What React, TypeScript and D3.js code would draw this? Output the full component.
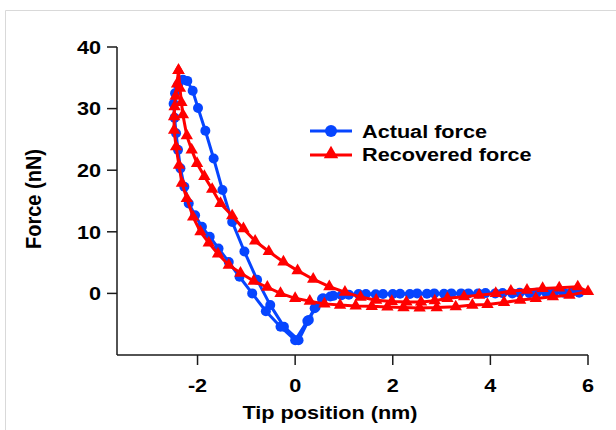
import React from 'react';
import * as d3 from 'd3';

// Actual force (blue circles): approach from the right, loop, back to the right
const actualX = [
  5.82, 5.5, 5.15, 4.8, 4.45, 4.1, 3.75, 3.4, 3.05, 2.7, 2.35, 2.0, 1.65, 1.3, 0.95, 0.72, 0.57, 0.42, 0.28, 0.07,
  -0.23, -0.51, -0.78, -1.04, -1.29, -1.49, -1.67, -1.84, -1.99, -2.1, -2.21, -2.3,
  -2.4, -2.46, -2.49, -2.47, -2.44, -2.4, -2.35, -2.27, -2.18, -2.05, -1.91, -1.75, -1.57, -1.36, -1.14, -0.88, -0.6, -0.3, 0.0,
  0.25, 0.4, 0.55, 0.78, 1.1, 1.45, 1.8, 2.15, 2.5, 2.85, 3.2, 3.55, 3.9, 4.25, 4.6, 4.95, 5.3, 5.65,
];
const actualY = [
  0.1, 0.1, 0.05, 0.05, 0, 0, 0, 0, -0.05, -0.05, -0.1, -0.1, -0.15, -0.1, -0.3, -0.5, -0.8, -2.2, -4.3, -7.6,
  -5.4, -1.9, 2.2, 6.8, 11.6, 16.8, 21.9, 26.4, 30.1, 32.9, 34.5, 34.7,
  33.8, 32.5, 30.8, 28.5, 26.0, 23.3, 20.3, 17.3, 14.6, 12.7, 10.8, 9.2, 7.3, 5.1, 2.7, 0.0, -2.9, -5.4, -7.6,
  -4.5, -2.4, -0.9, -0.4, -0.2, -0.1, -0.1, -0.05, 0, 0, 0, 0, 0.05, 0.05, 0.1, 0.1, 0.1, 0.1,
];

// Recovered force (red triangles): upper branch from the peak, then lower branch back
const recoveredX = [
  -2.39, -2.36, -2.33, -2.3, -2.22, -2.12, -2.01, -1.86, -1.7, -1.53, -1.29, -1.06, -0.82, -0.54, -0.24, 0.05, 0.37, 0.7,
  1.02, 1.34, 1.66, 1.98, 2.28, 2.58, 2.86, 3.12, 3.46, 3.77, 4.11, 4.42, 4.75, 5.07, 5.41, 5.79, 6.0,
  5.62, 5.28, 4.93, 4.61, 4.28, 3.94, 3.63, 3.29, 2.9, 2.55, 2.22, 1.89, 1.57, 1.24, 0.92, 0.6, 0.3, 0.0,
  -0.3, -0.57, -0.85, -1.12, -1.36, -1.58, -1.77, -1.94, -2.09, -2.22, -2.32, -2.38, -2.44, -2.48, -2.48, -2.47, -2.45, -2.42, -2.39,
];
const recoveredY = [
  36.2, 33.3, 31.0, 29.0, 25.6, 23.3, 21.1, 19.0, 16.9, 14.6, 12.6, 10.5, 8.5, 6.8, 5.1, 3.7, 2.3, 1.1,
  0.2, -0.6, -1.1, -1.3, -1.4, -1.4, -1.2, -0.8, -0.55, -0.28, 0.0, 0.37, 0.54, 0.8, 0.9, 1.07, 0.3,
  -0.28, -0.55, -0.81, -1.09, -1.47, -1.79, -1.9, -2.17, -2.3, -2.35, -2.3, -2.2, -2.1, -2.03, -1.9, -1.7, -1.25, -0.8,
  0.0, 1.0, 2.0, 3.3, 4.6, 6.4, 8.2, 10.0, 12.4, 15.4, 17.9, 20.8, 23.8, 26.5, 28.7, 30.3, 32.0, 34.0, 36.2,
];

const xTicks = [-2, 0, 2, 4, 6];
const yTicks = [0, 10, 20, 30, 40];

const BLUE = '#0645ff';
const RED = '#ff0000';
const FONT = '"Liberation Sans", Arial, sans-serif';
const SX = 1.14; // the original is stretched sideways a little

type Pt = { x: number; y: number };
const actual: Pt[] = actualX.map((x, i) => ({ x, y: actualY[i] }));
const recovered: Pt[] = recoveredX.map((x, i) => ({ x, y: recoveredY[i] }));

const x = d3.scaleLinear().domain([-3.65, 6]).range([117, 588]);
const y = d3.scaleLinear().domain([-10, 40]).range([355, 47]);

const line = d3
  .line<Pt>()
  .x((d) => x(d.x))
  .y((d) => y(d.y));

const tri = d3.symbol().type(d3.symbolTriangle).size(66)() as string;

const Label = ({ tx, ty, anchor, children }: any) => (
  <text
    transform={`translate(${tx},${ty}) scale(${SX},1)`}
    textAnchor={anchor}
    fontFamily={FONT}
    fontWeight="bold"
    fontSize={19}
    fill="#000"
  >
    {children}
  </text>
);

export default function App() {
  return (
    <svg
      width={616}
      height={430}
      style={{ position: 'absolute', left: 0, top: 0, background: '#fff' }}
    >
      <path d="M5.5,430 V10.5 H616" fill="none" stroke="#d9d9d9" strokeWidth={1} />

      {/* axes */}
      <g stroke="#1a1a1a" strokeWidth={1.5} fill="none">
        <line x1={x(-3.65)} x2={x(6)} y1={y(-10)} y2={y(-10)} />
        <line x1={x(-3.65)} x2={x(-3.65)} y1={y(-10)} y2={y(40)} />
        {xTicks.map((t) => (
          <line key={t} x1={x(t)} x2={x(t)} y1={y(-10)} y2={y(-10) + 10} />
        ))}
        {yTicks.map((t) => (
          <line key={t} x1={x(-3.65) - 10} x2={x(-3.65)} y1={y(t)} y2={y(t)} />
        ))}
      </g>
      {xTicks.map((t) => (
        <Label key={t} tx={x(t)} ty={392} anchor="middle">
          {t}
        </Label>
      ))}
      {yTicks.map((t) => (
        <Label key={t} tx={101} ty={y(t) + 6.8} anchor="end">
          {t}
        </Label>
      ))}
      <Label tx={330} ty={419} anchor="middle">
        Tip position (nm)
      </Label>
      <text
        transform={`translate(41,199) scale(${SX},1) rotate(-90)`}
        textAnchor="middle"
        fontFamily={FONT}
        fontWeight="bold"
        fontSize={20}
        fill="#000"
      >
        Force (nN)
      </text>

      {/* actual force */}
      <path d={line(actual) as string} fill="none" stroke={BLUE} strokeWidth={3} strokeLinejoin="round" />
      {actual.map((d, i) => (
        <circle key={i} cx={x(d.x)} cy={y(d.y)} r={5} fill={BLUE} />
      ))}

      {/* recovered force */}
      <path d={line(recovered) as string} fill="none" stroke={RED} strokeWidth={3} strokeLinejoin="round" />
      {recovered.map((d, i) => (
        <path key={i} d={tri} transform={`translate(${x(d.x)},${y(d.y)})`} fill={RED} />
      ))}

      {/* legend */}
      <line x1={310} x2={352} y1={131} y2={131} stroke={BLUE} strokeWidth={3} />
      <circle cx={331} cy={131} r={6} fill={BLUE} />
      <Label tx={362} ty={137.5} anchor="start">
        Actual force
      </Label>
      <line x1={310} x2={352} y1={155} y2={155} stroke={RED} strokeWidth={3} />
      <path d={d3.symbol().type(d3.symbolTriangle).size(90)() as string} transform="translate(331,154)" fill={RED} />
      <Label tx={362} ty={161} anchor="start">
        Recovered force
      </Label>
    </svg>
  );
}
